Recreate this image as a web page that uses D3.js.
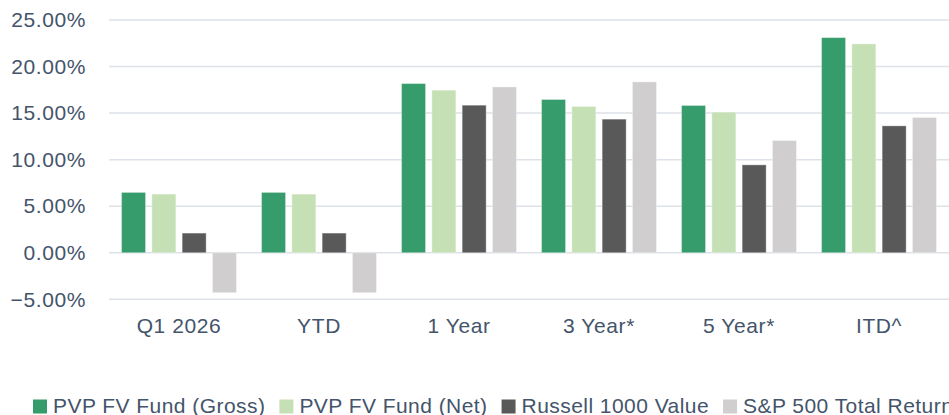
<!DOCTYPE html>
<html><head><meta charset="utf-8">
<script src="https://cdn.jsdelivr.net/npm/d3@7"></script>
<style>
html,body{margin:0;padding:0;background:#fff;overflow:hidden;}
svg{display:block;}
text{font-family:"Liberation Sans",Arial,sans-serif;fill:#44546A;}
</style></head>
<body>
<svg id="chart" width="949" height="415"></svg>
<script>
const categories = ["Q1 2026","YTD","1 Year","3 Year*","5 Year*","ITD^"];
const seriesNames = ["PVP FV Fund (Gross)","PVP FV Fund (Net)","Russell 1000 Value","S&P 500 Total Return"];
const gross   = [6.48, 6.48, 18.17, 16.46, 15.82, 23.11];
const net     = [6.30, 6.30, 17.46, 15.71, 15.10, 22.43];
const russell = [2.11, 2.11, 15.85, 14.35, 9.44, 13.63];
const sp500   = [-4.29, -4.29, 17.81, 18.35, 12.06, 14.53];
const colors  = ["#369C6B","#C5E0B4","#595959","#D0CECE"];
const yTicks  = [-5,0,5,10,15,20,25];

const seriesValues = [gross, net, russell, sp500];
const svg = d3.select("#chart");

const x0 = d3.scaleBand().domain(categories).range([109, 949]).paddingInner(0).paddingOuter(0);
const x1 = d3.scaleBand().domain(seriesNames).range([0, x0.bandwidth()]).paddingInner(0.208).paddingOuter(0.414);
const y = d3.scaleLinear().domain([-5, 25]).range([299.3, 20]);

// gridlines
svg.append("g").selectAll("line").data(yTicks).join("line")
  .attr("x1", 109).attr("x2", 949)
  .attr("y1", d => y(d)).attr("y2", d => y(d))
  .attr("stroke", "#DDE2E9").attr("stroke-width", 1.5);

// y axis labels
const yAxis = d3.axisLeft(y).tickValues(yTicks).tickSize(0).tickPadding(0)
  .tickFormat(d => d3.format(".2f")(d) + "%");
const ga = svg.append("g").attr("transform", "translate(86,0)").call(yAxis);
ga.select(".domain").remove();
ga.selectAll("text").attr("font-size", "21px").attr("letter-spacing", "0.6px")
  .attr("fill", "#44546A").style("font-family", '"Liberation Sans",Arial,sans-serif');

// bars
const groups = svg.append("g").selectAll("g").data(categories).join("g")
  .attr("transform", d => `translate(${x0(d)},0)`);
groups.selectAll("rect")
  .data((c, i) => seriesNames.map((s, j) => ({s, v: seriesValues[j][i], c: colors[j]})))
  .join("rect")
  .attr("x", d => x1(d.s))
  .attr("width", x1.bandwidth())
  .attr("y", d => y(Math.max(0, d.v)))
  .attr("height", d => Math.abs(y(d.v) - y(0)))
  .attr("fill", d => d.c)
  .attr("stroke", "#ffffff").attr("stroke-opacity", 0.35).attr("stroke-width", 1);

// x axis labels
const xAxis = d3.axisBottom(x0).tickSize(0).tickPadding(0);
const gx = svg.append("g").attr("transform", "translate(0,318)").call(xAxis);
gx.select(".domain").remove();
gx.selectAll("text").attr("font-size", "21px").attr("letter-spacing", "0.6px")
  .attr("fill", "#44546A").style("font-family", '"Liberation Sans",Arial,sans-serif');

// legend
const leg = svg.append("g");
let lx = 33;
seriesNames.forEach((s, j) => {
  leg.append("rect").attr("x", lx).attr("y", 399.5).attr("width", 14).attr("height", 14).attr("fill", colors[j]);
  const t = leg.append("text").attr("x", lx + 20).attr("y", 413)
    .attr("font-size", "21px").attr("letter-spacing", "0.45px").text(s);
  const w = t.node().getComputedTextLength();
  lx += 20 + w + 14;
});
</script>
</body></html>
